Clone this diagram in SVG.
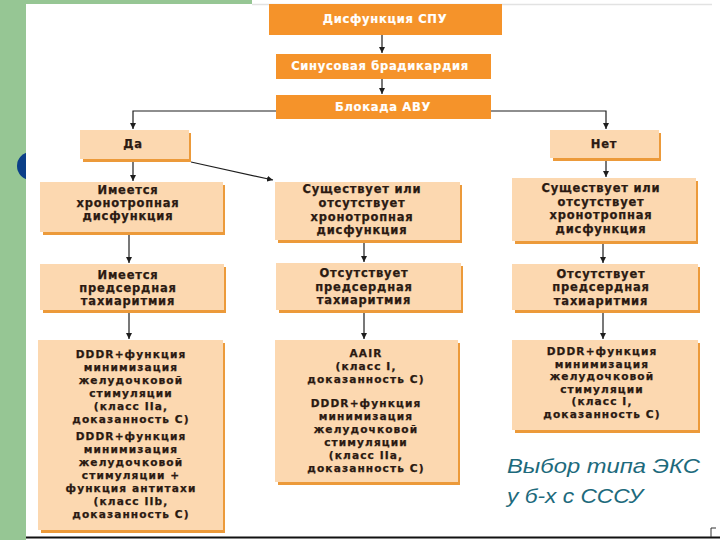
<svg xmlns="http://www.w3.org/2000/svg" width="720" height="540" viewBox="0 0 720 540">
<defs>
<style>
.t{font-family:"DejaVu Sans","Liberation Sans",sans-serif;font-weight:bold;font-size:11.5px;letter-spacing:0.8px;fill:#2b1a12;stroke:#2b1a12;stroke-width:0.25;text-anchor:middle}
.s{font-size:10.6px;letter-spacing:1.1px}
.h{font-family:"DejaVu Sans","Liberation Sans",sans-serif;font-weight:bold;font-size:11.5px;letter-spacing:0.7px;fill:#ffffff;stroke:#ffffff;stroke-width:0.2;text-anchor:middle}
.hb{fill:#f5932a}
.lb{fill:#fcd8b0}
.sh{fill:#ec9a3a}
.c{stroke:#1e1e1e;stroke-width:1.2;fill:none;marker-end:url(#ah)}
.cap{font-family:"Liberation Sans",Arial,sans-serif;font-style:italic;font-size:21px;fill:#1d6a7c}
</style>
<marker id="ah" markerWidth="6" markerHeight="6" refX="6" refY="3" orient="auto" markerUnits="userSpaceOnUse">
<path d="M0,0 L6,3 L0,6 z" fill="#1e1e1e"/>
</marker>
</defs>
<rect x="0" y="0" width="720" height="540" fill="#ffffff"/>
<rect x="0" y="0" width="26" height="540" fill="#96c694"/>
<rect x="26" y="0" width="226" height="4" fill="#96c694"/>
<line x1="252" y1="4.5" x2="712" y2="4.5" stroke="#e2e2e2" stroke-width="1.5"/>
<circle cx="31" cy="166" r="14" fill="#0b3f88"/>
<rect x="26" y="148" width="22" height="33" fill="#ffffff"/>
<line x1="26" y1="537.5" x2="720" y2="537.5" stroke="#111" stroke-width="2"/>
<path d="M711,537 V528 H716" stroke="#333" stroke-width="1" fill="none"/>

<g id="n_spu"><rect class="hb" x="269" y="4" width="233" height="31"/><text class="h" x="385" y="23">Дисфункция СПУ</text></g>
<g id="n_sinus"><rect class="hb" x="276" y="54" width="215" height="25"/><text class="h" x="380" y="70">Синусовая брадикардия</text></g>
<g id="n_avu"><rect class="hb" x="276" y="95" width="215" height="24"/><text class="h" x="383" y="111">Блокада АВУ</text></g>

<g id="n_da"><rect class="sh" x="83" y="133" width="108" height="29"/><rect class="lb" x="80" y="130" width="109" height="29"/><text class="t" x="133" y="148">Да</text></g>
<g id="n_net"><rect class="sh" x="553" y="133" width="108" height="28"/><rect class="lb" x="550" y="130" width="109" height="28"/><text class="t" x="604" y="148">Нет</text></g>

<g id="n_l2"><rect class="sh" x="43" y="185" width="182" height="50"/><rect class="lb" x="40" y="182" width="183" height="50"/>
<text class="t" x="128"><tspan x="128" y="194">Имеется</tspan><tspan x="128" y="207">хронотропная</tspan><tspan x="128" y="220">дисфункция</tspan></text></g>
<g id="n_m2"><rect class="sh" x="278" y="185" width="184" height="58"/><rect class="lb" x="275" y="182" width="185" height="58"/>
<text class="t" x="362"><tspan x="362" y="193">Существует или</tspan><tspan x="362" y="207">отсутствует</tspan><tspan x="362" y="221">хронотропная</tspan><tspan x="362" y="234">дисфункция</tspan></text></g>
<g id="n_r2"><rect class="sh" x="515" y="181" width="183" height="63"/><rect class="lb" x="512" y="178" width="184" height="63"/>
<text class="t" x="601"><tspan x="601" y="192">Существует или</tspan><tspan x="601" y="206">отсутствует</tspan><tspan x="601" y="219">хронотропная</tspan><tspan x="601" y="233">дисфункция</tspan></text></g>

<g id="n_l3"><rect class="sh" x="43" y="267" width="183" height="46"/><rect class="lb" x="40" y="264" width="184" height="46"/>
<text class="t" x="128"><tspan x="128" y="279">Имеется</tspan><tspan x="128" y="292">предсердная</tspan><tspan x="128" y="305">тахиаритмия</tspan></text></g>
<g id="n_m3"><rect class="sh" x="279" y="266" width="184" height="47"/><rect class="lb" x="276" y="263" width="185" height="47"/>
<text class="t" x="364"><tspan x="364" y="277">Отсутствует</tspan><tspan x="364" y="291">предсердная</tspan><tspan x="364" y="304">тахиаритмия</tspan></text></g>
<g id="n_r3"><rect class="sh" x="515" y="267" width="185" height="46"/><rect class="lb" x="512" y="264" width="186" height="46"/>
<text class="t" x="601"><tspan x="601" y="278">Отсутствует</tspan><tspan x="601" y="291">предсердная</tspan><tspan x="601" y="304.5">тахиаритмия</tspan></text></g>

<g id="n_l4"><rect class="sh" x="41" y="343" width="184" height="190"/><rect class="lb" x="38" y="340" width="185" height="190"/>
<text class="t s" x="131"><tspan x="131" y="358">DDDR+функция</tspan><tspan x="131" y="371">минимизация</tspan><tspan x="131" y="384">желудочковой</tspan><tspan x="131" y="397">стимуляции</tspan><tspan x="131" y="410">(класс IIa,</tspan><tspan x="131" y="423">доказанность С)</tspan><tspan x="131" y="440">DDDR+функция</tspan><tspan x="131" y="453">минимизация</tspan><tspan x="131" y="466">желудочковой</tspan><tspan x="131" y="479">стимуляции +</tspan><tspan x="131" y="492">функция антитахи</tspan><tspan x="131" y="505">(класс IIb,</tspan><tspan x="131" y="518">доказанность С)</tspan></text></g>
<g id="n_m4"><rect class="sh" x="278" y="343" width="182" height="142"/><rect class="lb" x="275" y="340" width="183" height="142"/>
<text class="t s" x="366"><tspan x="366" y="357">AAIR</tspan><tspan x="366" y="370">(класс I,</tspan><tspan x="366" y="383">доказанность С)</tspan><tspan x="366" y="407">DDDR+функция</tspan><tspan x="366" y="420">минимизация</tspan><tspan x="366" y="433">желудочковой</tspan><tspan x="366" y="446">стимуляции</tspan><tspan x="366" y="459">(класс IIa,</tspan><tspan x="366" y="472">доказанность С)</tspan></text></g>
<g id="n_r4"><rect class="sh" x="515" y="343" width="185" height="90"/><rect class="lb" x="512" y="340" width="186" height="90"/>
<text class="t s" x="602"><tspan x="602" y="355">DDDR+функция</tspan><tspan x="602" y="367.5">минимизация</tspan><tspan x="602" y="380">желудочковой</tspan><tspan x="602" y="392.5">стимуляции</tspan><tspan x="602" y="405">(класс I,</tspan><tspan x="602" y="417.5">доказанность С)</tspan></text></g>

<g id="connectors">
<path class="c" d="M382,35 V53"/>
<path class="c" d="M382,79 V94"/>
<path class="c" d="M276,111 H133 V129"/>
<path class="c" d="M491,111 H606 V129"/>
<path class="c" d="M133,162 V181"/>
<path class="c" d="M191,162 L273,180"/>
<path class="c" d="M606,161 V177"/>
<path class="c" d="M129,235 V263"/>
<path class="c" d="M364,243 V262"/>
<path class="c" d="M603,244 V263"/>
<path class="c" d="M129,313 V339"/>
<path class="c" d="M364,313 V339"/>
<path class="c" d="M603,313 V339"/>
</g>

<g id="caption">
<text class="cap" x="507" y="473" textLength="193" lengthAdjust="spacingAndGlyphs">Выбор типа ЭКС</text>
<text class="cap" x="507" y="503" textLength="136" lengthAdjust="spacingAndGlyphs">у б-х с СССУ</text>
</g>
</svg>
